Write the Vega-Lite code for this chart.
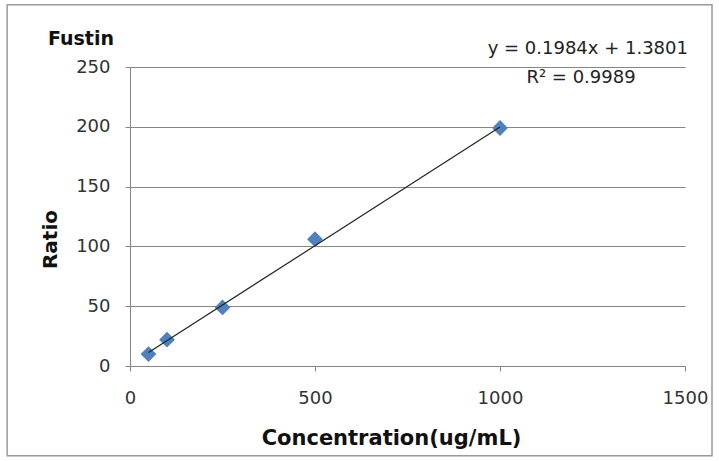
{
  "$schema": "https://vega.github.io/schema/vega-lite/v6.json",
  "width": 555,
  "height": 299,
  "autosize": {"type": "none"},
  "padding": {"left": 130, "top": 67, "right": 34, "bottom": 95},
  "background": "white",
  "title": {
    "text": "Fustin",
    "anchor": "start",
    "frame": "group",
    "dx": -82,
    "dy": 64,
    "offset": 0,
    "baseline": "bottom",
    "fontSize": 19,
    "fontWeight": "bold",
    "font": "DejaVu Sans",
    "color": "#111111"
  },
  "config": {
    "view": {"stroke": null},
    "font": "DejaVu Sans"
  },
  "datasets": {
    "points": [
      {"conc": 50, "ratio": 10},
      {"conc": 100, "ratio": 22},
      {"conc": 250, "ratio": 49},
      {"conc": 500, "ratio": 106},
      {"conc": 1000, "ratio": 199}
    ],
    "trend": [
      {"conc": 50, "ratio": 11.3001},
      {"conc": 1000, "ratio": 199.7801}
    ],
    "equation": [
      {"conc": 1508, "ratio": 265, "text": "y = 0.1984x + 1.3801"}
    ],
    "rsquared": [
      {"conc": 1219, "ratio": 241, "text": "R² = 0.9989"}
    ],
    "chartArea": [
      {"x0": -332, "x1": 1573, "y0": -75, "y1": 302}
    ]
  },
  "layer": [
    {
      "data": {"name": "chartArea"},
      "mark": {"type": "rect", "fill": null, "stroke": "#9a9a9a", "strokeWidth": 1.5, "clip": false},
      "encoding": {
        "x": {"field": "x0", "type": "quantitative"},
        "x2": {"field": "x1"},
        "y": {"field": "y0", "type": "quantitative"},
        "y2": {"field": "y1"}
      }
    },
    {
      "data": {"name": "points"},
      "mark": {"type": "point", "shape": "diamond", "filled": true, "size": 250, "color": "#4F81BD", "opacity": 1},
      "encoding": {
        "x": {
          "field": "conc",
          "type": "quantitative",
          "scale": {"domain": [0, 1500], "nice": false},
          "axis": {
            "values": [0, 500, 1000, 1500],
            "format": "d",
            "title": "Concentration(ug/mL)",
            "titleFont": "DejaVu Sans",
            "titleFontSize": 21,
            "titleFontWeight": "bold",
            "titleColor": "#111111",
            "titleX": 261,
            "titleY": 72,
            "titleBaseline": "middle",
            "labelFont": "DejaVu Sans",
            "labelFontSize": 18,
            "labelColor": "#333333",
            "labelPadding": 18,
            "labelFlush": false,
            "tickSize": 5,
            "tickColor": "#868686",
            "domainColor": "#868686",
            "grid": false
          }
        },
        "y": {
          "field": "ratio",
          "type": "quantitative",
          "scale": {"domain": [0, 250], "nice": false},
          "axis": {
            "values": [0, 50, 100, 150, 200, 250],
            "format": "d",
            "title": "Ratio",
            "titleFont": "DejaVu Sans",
            "titleFontSize": 20,
            "titleFontWeight": "bold",
            "titleColor": "#111111",
            "titleAngle": -90,
            "titleX": -80,
            "titleY": 172,
            "titleAlign": "center",
            "titleBaseline": "middle",
            "labelFont": "DejaVu Sans",
            "labelFontSize": 18,
            "labelColor": "#333333",
            "labelPadding": 15,
            "labelFlush": false,
            "tickSize": 5,
            "tickColor": "#868686",
            "domainColor": "#868686",
            "grid": true,
            "gridColor": "#868686",
            "gridWidth": 1
          }
        }
      }
    },
    {
      "data": {"name": "trend"},
      "mark": {"type": "line", "color": "#222222", "strokeWidth": 1.2},
      "encoding": {
        "x": {"field": "conc", "type": "quantitative"},
        "y": {"field": "ratio", "type": "quantitative"}
      }
    },
    {
      "data": {"name": "equation"},
      "mark": {"type": "text", "fontSize": 18, "font": "DejaVu Sans", "color": "#222222", "align": "right", "baseline": "middle", "clip": false},
      "encoding": {
        "x": {"field": "conc", "type": "quantitative"},
        "y": {"field": "ratio", "type": "quantitative"},
        "text": {"field": "text"}
      }
    },
    {
      "data": {"name": "rsquared"},
      "mark": {"type": "text", "fontSize": 18, "font": "DejaVu Sans", "color": "#222222", "align": "center", "baseline": "middle", "clip": false},
      "encoding": {
        "x": {"field": "conc", "type": "quantitative"},
        "y": {"field": "ratio", "type": "quantitative"},
        "text": {"field": "text"}
      }
    }
  ]
}
